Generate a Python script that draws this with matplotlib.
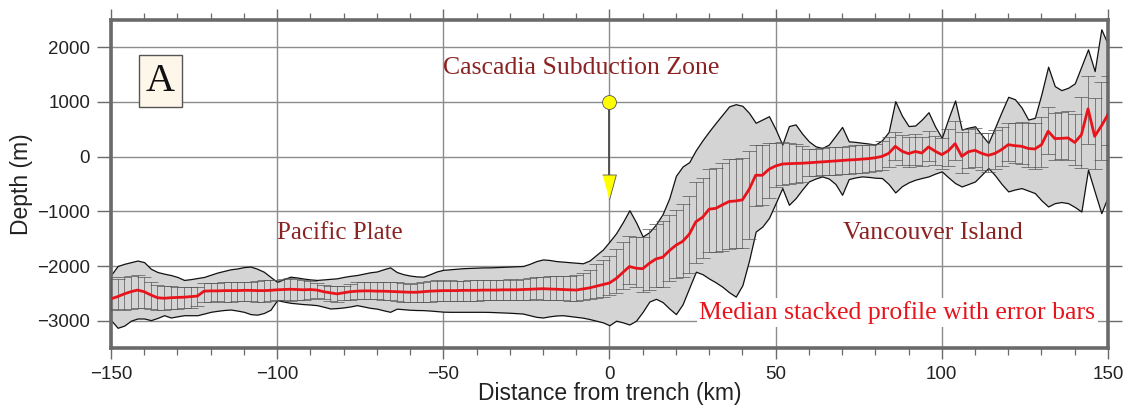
import numpy as np
import matplotlib
matplotlib.use("Agg")
import matplotlib.pyplot as plt
from matplotlib.ticker import MultipleLocator

# profile sampled every 2 km from -150 to 150 km
dist_km = np.arange(-150, 151, 2)

median_depth = [
    -2600, -2560, -2510, -2470, -2440, -2470, -2530, -2580, -2590, -2580,
    -2575, -2570, -2560, -2550, -2460, -2455, -2455, -2450, -2450, -2450,
    -2445, -2445, -2450, -2450, -2445, -2435, -2430, -2425, -2430, -2435,
    -2430, -2440, -2470, -2490, -2510, -2490, -2470, -2460, -2455, -2455,
    -2460, -2460, -2465, -2470, -2475, -2480, -2480, -2470, -2460, -2455,
    -2450, -2450, -2450, -2445, -2445, -2445, -2440, -2440, -2440, -2435,
    -2435, -2435, -2430, -2425, -2420, -2415, -2420, -2425, -2430, -2435,
    -2440, -2420, -2400, -2370, -2340, -2310, -2230, -2120, -2010, -2040,
    -2050, -1950, -1870, -1840, -1720, -1620, -1550, -1420, -1190, -1110,
    -960, -945, -880, -820, -810, -790, -600, -340, -340, -230,
    -170, -135, -128, -125, -120, -112, -105, -98, -90, -80,
    -70, -60, -55, -45, -35, -20, 5, 60, 190, 100,
    55, 95, 67, 178, 100, 37, 110, 238, 6, 90,
    116, 60, 24, 60, 130, 220, 200, 190, 150, 140,
    220, 465, 330, 335, 343, 260, 400, 875, 372, 560,
    770,
]

envelope_top = [
    -2165, -2000, -1960, -1930, -1900, -1930, -2050, -2110, -2140, -2165,
    -2200, -2255, -2240, -2220, -2200, -2160, -2120, -2090, -2060, -2045,
    -2020, -2010, -2050, -2105, -2200, -2290, -2240, -2195, -2210, -2230,
    -2245, -2255, -2245, -2235, -2225, -2200, -2180, -2165, -2140, -2115,
    -2100, -2060, -2025, -2110, -2150, -2175, -2190, -2195, -2150, -2100,
    -2070, -2060, -2050, -2040, -2035, -2030, -2025, -2025, -2020, -2015,
    -2010, -2005, -2000, -1960, -1910, -1880, -1890, -1910, -1920, -1930,
    -1940, -1950, -1900, -1800, -1700, -1555, -1400, -1200, -980, -1200,
    -1460, -1380, -1240, -1050, -760, -350, -180, -100, 120, 300,
    465, 620, 770, 920, 960, 930, 800, 620, 680, 740,
    500, 220, 560, 590, 420, 280, 190, 159, 220, 380,
    544, 281, 270, 255, 240, 220, 300, 450, 1015, 750,
    560, 570, 680, 813, 550, 343, 700, 1028, 495, 530,
    556, 400, 250, 530, 820, 1095, 1050, 900, 679, 710,
    1150, 1646, 1290, 1217, 1260, 1340, 1650, 1963, 1565, 2330,
    2055,
]

envelope_bottom = [
    -2990, -3130, -3090, -3000, -2960, -2960, -2990, -2950, -2900, -2942,
    -2920, -2900, -2900, -2900, -2870, -2838, -2820, -2805, -2796, -2815,
    -2838, -2880, -2890, -2860, -2800, -2624, -2650, -2673, -2685, -2697,
    -2705, -2716, -2745, -2777, -2770, -2758, -2740, -2716, -2740, -2765,
    -2780, -2810, -2838, -2780, -2790, -2800, -2805, -2807, -2815, -2825,
    -2835, -2838, -2838, -2838, -2838, -2838, -2838, -2840, -2845, -2850,
    -2855, -2862, -2870, -2900, -2930, -2942, -2920, -2905, -2900, -2915,
    -2930, -2945, -2970, -3000, -3030, -3083, -3000, -3030, -3070, -3000,
    -2838, -2650, -2600, -2660, -2777, -2880, -2700, -2400, -2104, -2150,
    -2230, -2300, -2380, -2480, -2560, -2350, -1900, -1370, -1279, -1120,
    -850, -575, -880, -760, -600, -453, -400, -361, -400, -500,
    -697, -410, -380, -361, -370, -385, -391, -500, -655, -540,
    -470, -422, -390, -361, -310, -269, -380, -483, -545, -500,
    -453, -330, -208, -340, -500, -636, -600, -575, -620, -666,
    -800, -911, -850, -830, -850, -920, -1003, -239, -640, -1033,
    -728,
]

# error bar extent above / below the median (m)
err_above = [
    400, 330, 300, 290, 280, 270, 240, 230, 220, 210,
    200, 190, 170, 160, 150, 150, 140, 150, 160, 150,
    150, 160, 170, 200, 190, 180, 190, 200, 190, 180,
    160, 130, 120, 130, 140, 130, 150, 170, 170, 160,
    170, 160, 170, 180, 170, 160, 170, 170, 180, 190,
    180, 190, 180, 170, 180, 190, 180, 190, 180, 180,
    190, 180, 190, 200, 210, 220, 230, 240, 250, 260,
    270, 300, 330, 400, 450, 500, 540, 560, 560, 570,
    580, 620, 640, 660, 660, 650, 680, 700, 720, 720,
    740, 740, 760, 780, 760, 760, 700, 560, 550, 480,
    420, 400, 380, 360, 320, 260, 250, 250, 260, 250,
    250, 260, 260, 250, 250, 260, 280, 300, 260, 300,
    310, 320, 300, 290, 280, 300, 400, 420, 440, 420,
    400, 380, 400, 420, 420, 400, 420, 440, 460, 480,
    500, 450, 470, 480, 500, 520, 700, 600, 700, 800,
    700,
]

err_below = [
    200, 230, 300, 310, 320, 300, 260, 230, 220, 210,
    210, 200, 200, 190, 200, 200, 190, 200, 200, 190,
    200, 200, 200, 210, 200, 190, 200, 210, 200, 190,
    170, 150, 140, 150, 150, 140, 150, 150, 150, 150,
    150, 160, 160, 170, 180, 180, 180, 190, 190, 190,
    190, 190, 190, 190, 190, 190, 190, 190, 190, 190,
    190, 190, 190, 190, 190, 200, 200, 200, 200, 200,
    200, 200, 210, 220, 220, 220, 260, 300, 320, 350,
    420, 480, 520, 550, 560, 600, 650, 700, 750, 750,
    780, 800, 840, 860, 860, 880, 900, 560, 540, 520,
    390, 380, 380, 360, 340, 250, 250, 240, 240, 250,
    250, 250, 250, 250, 240, 250, 250, 250, 260, 250,
    250, 250, 240, 250, 260, 260, 280, 300, 300, 300,
    310, 300, 300, 290, 300, 300, 310, 320, 330, 360,
    400, 420, 400, 380, 400, 420, 600, 640, 600, 620,
    550,
]

assert len(median_depth) == len(dist_km)
assert len(envelope_top) == len(dist_km) and len(envelope_bottom) == len(dist_km)
assert len(err_above) == len(dist_km) and len(err_below) == len(dist_km)

trench_km = 0
volcano_depth = 1000
arrow_depth = -560

plt.rcParams['font.family'] = ['Liberation Sans', 'DejaVu Sans']
serif = ['Liberation Serif', 'DejaVu Serif']
dark_red = '#8b2323'
line_red = '#e8141c'

fig = plt.figure(figsize=(11.3, 4.12), dpi=100)
ax = fig.add_axes([0.0982, 0.1553, 0.8823, 0.7962])

# gray envelope of all profiles
ax.fill_between(dist_km, envelope_bottom, envelope_top, facecolor='#d4d4d4',
                edgecolor='#111111', linewidth=0.9, zorder=2)

# error bars
ax.errorbar(dist_km, median_depth, yerr=[err_below, err_above], fmt='none',
            ecolor='#555555', elinewidth=0.5, capsize=4.7, capthick=0.5,
            zorder=3)

# median profile
ax.plot(dist_km, median_depth, color=line_red, linewidth=2.0, zorder=4)

# trench marker: yellow dot and arrow
narrow_tri = [(-0.55, 1.0), (0.55, 1.0), (0.0, -1.0)]
ax.plot([trench_km, trench_km], [volcano_depth, arrow_depth + 150],
        color='#4a4a4a', linewidth=1.3, zorder=5)
ax.plot(trench_km, arrow_depth, marker=narrow_tri, markersize=18,
        markerfacecolor='#ffff00', markeredgecolor='#555555',
        markeredgewidth=0.6, linestyle='none', zorder=6)
ax.plot(trench_km, volcano_depth, marker='o', markersize=10,
        markerfacecolor='#ffff00', markeredgecolor='#555555',
        markeredgewidth=0.6, linestyle='none', zorder=6)

ax.set_xlim(-150, 150)
ax.set_ylim(-3500, 2500)
ax.xaxis.set_major_locator(MultipleLocator(50))
ax.xaxis.set_minor_locator(MultipleLocator(10))
ax.set_yticks(np.arange(-3000, 2001, 1000))

ax.grid(True, which='major', color='#8c8c8c', linewidth=1.0)
ax.set_axisbelow(True)

for sp in ax.spines.values():
    sp.set_color('#6a6a6a')
    sp.set_linewidth(2.6)

ax.tick_params(which='both', direction='out', top=True, right=True,
               color='#6a6a6a', labelsize=13.5, labelcolor='#222222')
ax.tick_params(which='major', length=8, width=1.0, pad=5)
ax.tick_params(which='minor', length=5, width=0.9)
ax.tick_params(axis='y', which='major', right=True, length=10)

ax.set_xlabel('Distance from trench (km)', fontsize=16.5, color='#222222',
              labelpad=-1)
ax.set_ylabel('Depth (m)', fontsize=16.5, color='#222222', labelpad=3)

ax.text(-135.1, 1380, 'A', fontsize=29, family=serif, ha='center', va='center',
        color='#111111', zorder=7,
        bbox=dict(boxstyle='square,pad=0.18', facecolor='#fcf7e8',
                  edgecolor='#555555', linewidth=1.0))

ax.text(-8.4, 1630, 'Cascadia Subduction Zone', fontsize=18.5, family=serif,
        color=dark_red, ha='center', va='center', zorder=7)
ax.text(-81, -1400, 'Pacific Plate', fontsize=18, family=serif,
        color=dark_red, ha='center', va='center', zorder=7)
ax.text(97.2, -1400, 'Vancouver Island', fontsize=18.5, family=serif,
        color=dark_red, ha='center', va='center', zorder=7)
ax.text(86.6, -2850, 'Median stacked profile with error bars', fontsize=18.5,
        family=serif, color=line_red, ha='center', va='center', zorder=7,
        bbox=dict(boxstyle='square,pad=0.1', facecolor='white',
                  edgecolor='none'))

fig.savefig('out.png', dpi=100)
